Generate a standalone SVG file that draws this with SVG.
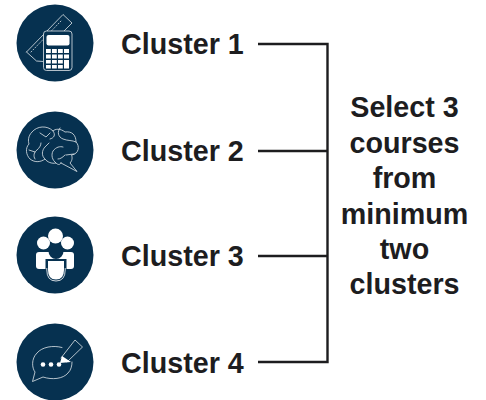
<svg xmlns="http://www.w3.org/2000/svg" width="486" height="400" viewBox="0 0 486 400">
<style>
.bg{fill:#063150}
.w{fill:#fff}
.ol{fill:none;stroke:#dfe6ea;stroke-width:.8;stroke-linejoin:round;stroke-linecap:round}
.lbl{font-family:"Liberation Sans",Arial,sans-serif;font-weight:700;font-size:28.700px;fill:#1d1d1f}
.c{text-anchor:middle}
.con{fill:none;stroke:#1d1d1f;stroke-width:2.400}
</style>
<rect width="486" height="400" fill="#fff"/>
<g id="connectors">
<path class="con" d="M258 44H327.500V362H258"/>
<path class="con" d="M258 151H327.500M258 256H327.500"/>
</g>
<g id="node-cluster-1">
<circle class="bg" cx="55" cy="43" r="38.500"/>
<path class="ol" d="M26.500 52L63 14.500L72 23L64 31M43 61.500L36.500 61L26.500 52"/>
<path class="ol" stroke-dasharray="1 2" d="M31 52L61 21"/>
<rect x="43.500" y="31" width="28.500" height="39.500" rx="3" class="bg" stroke="#dfe6ea" stroke-width=".8"/>
<rect class="w" x="46.500" y="35" width="23" height="10.500" rx="2"/>
<g class="w">
<rect x="46" y="49" width="4.800" height="4"/><rect x="52" y="49" width="4.800" height="4"/><rect x="58" y="49" width="4.800" height="4"/><rect x="64" y="49" width="5" height="4"/>
<rect x="46" y="54.500" width="4.800" height="4"/><rect x="52" y="54.500" width="4.800" height="4"/><rect x="58" y="54.500" width="4.800" height="4"/><rect x="64" y="54.500" width="5" height="4"/>
<rect x="46" y="60" width="4.800" height="3.500"/><rect x="52" y="60" width="4.800" height="3.500"/><rect x="58" y="60" width="4.800" height="3.500"/><rect x="64" y="60" width="5" height="8.500"/>
<rect x="46" y="65" width="4.800" height="3.500"/><rect x="52" y="65" width="4.800" height="3.500"/><rect x="58" y="65" width="4.800" height="3.500"/>
</g>
</g>
<text class="lbl" x="121" y="54">Cluster 1</text>
<g id="node-cluster-2">
<circle class="bg" cx="55" cy="150" r="38.500"/>
<path class="ol" d="M61 163L77 171.500L70 163C73 160 72 156 71.500 155C79 154 80 146 76 142C76 135 72 131 65 132C60 128 55 129 53 131C47 125 37 126 32 132C28 136 28 141 29 144C25 148 26 155 30 159C35 163 41 162 45 159C47 162 52 164 56 163C58 165 60 165 61 163Z"/>
<path class="ol" d="M35 159C33 156 34 152 37 150C39 148 41 146 41 143M45 159C41 156 42 150 45 147L49 143M56 163C52 160 51 155 53 151C56 147 60 146 63 147M65 155C62 158 60 159 58 159M60 128C57 132 58 137 63 139C68 141 72 140 76 142M40 133L46 137L50 133M29 150L35 152M53 131C56 135 54 138 50 139M66 155L74 154"/>
</g>
<text class="lbl" x="121" y="161">Cluster 2</text>
<g id="node-cluster-3">
<circle class="bg" cx="55" cy="255" r="38.500"/>
<circle class="w" cx="55.500" cy="236" r="7.500"/>
<circle class="w" cx="43.500" cy="243" r="6.500"/>
<circle class="w" cx="67.500" cy="243" r="6.500"/>
<path class="w" d="M36 255Q36 252 39 252H71Q74 252 74 255V266Q74 269 71 269H39Q36 269 36 266Z"/>
<circle class="bg" cx="56" cy="251.500" r="7.500"/>
<path class="bg" d="M45.500 259H66.500V270Q66.500 282 56 282Q45.500 282 45.500 270Z"/>
<path fill="none" stroke="#fff" stroke-width=".8" d="M46.800 268V270Q46.800 281 56 281Q65.200 281 65.200 270V268"/>
<path class="w" d="M48 261H64V270Q64 279.500 56 279.500Q48 279.500 48 270Z"/>
</g>
<text class="lbl" x="121" y="266">Cluster 3</text>
<g id="node-cluster-4">
<circle class="bg" cx="55" cy="362" r="38.500"/>
<path class="ol" d="M62 347.500C53 345 42 347 37 353C31 359 32 368 35 372L32.500 381.500L43 377C52 380 63 379 68 373C71 370 72 366 72 362"/>
<path class="ol" d="M61 358L75 340L82.500 347L67 362"/>
<path class="w" d="M62 356L71 362L60 363Z"/>
<circle class="w" cx="43" cy="364.500" r="2.300"/><circle class="w" cx="51" cy="364.500" r="2.300"/><circle class="w" cx="59" cy="364.500" r="2.300"/>
</g>
<text class="lbl" x="121" y="373">Cluster 4</text>
<g id="node-select">
<text class="lbl c" x="404.500" y="117">Select 3</text>
<text class="lbl c" x="404.500" y="153">courses</text>
<text class="lbl c" x="404.500" y="188">from</text>
<text class="lbl c" x="404.500" y="224">minimum</text>
<text class="lbl c" x="404.500" y="259">two</text>
<text class="lbl c" x="404.500" y="294">clusters</text>
</g>
</svg>
